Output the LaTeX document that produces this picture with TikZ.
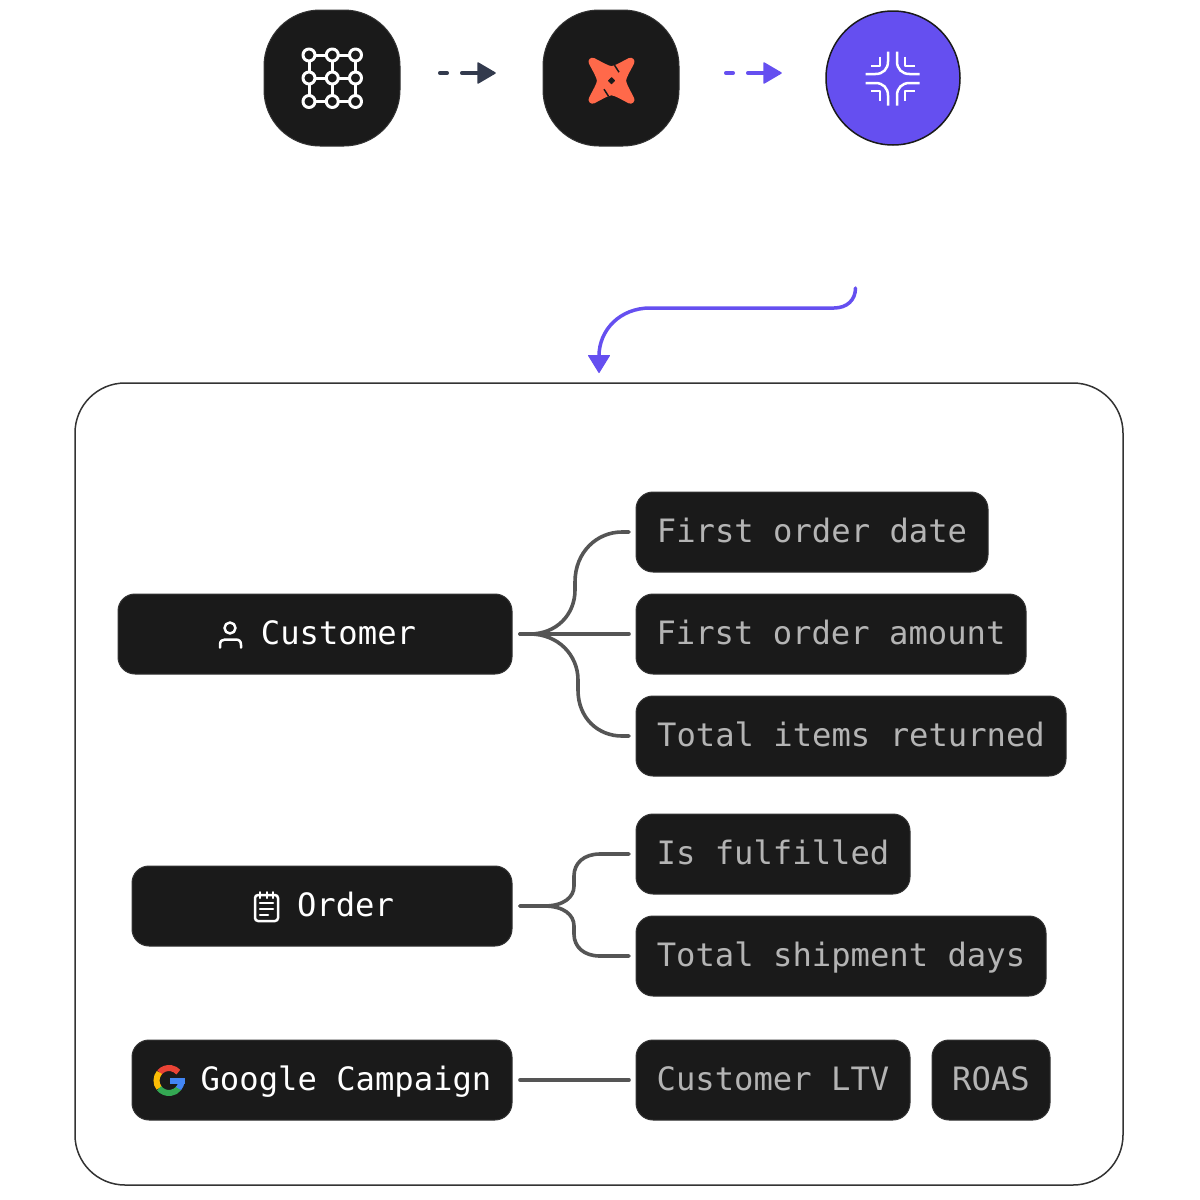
\documentclass[tikz,border=0pt]{standalone}
\usepackage{fontspec}
\setmonofont{DejaVu Sans Mono}
\usetikzlibrary{calc}
\definecolor{dark}{HTML}{1A1A1A}
\definecolor{edge}{HTML}{333333}
\definecolor{violet}{HTML}{654FF0}
\definecolor{slate}{HTML}{323A4D}
\definecolor{wire}{HTML}{555555}
\definecolor{attrtext}{HTML}{B4B4B4}
\definecolor{dbt}{HTML}{FF694A}
\definecolor{gred}{HTML}{EA4335}
\definecolor{gyellow}{HTML}{FBBC05}
\definecolor{ggreen}{HTML}{34A853}
\definecolor{gblue}{HTML}{4285F4}
\tikzset{
  box/.style={draw=edge,line width=1pt,fill=dark,rounded corners=17pt,minimum height=80pt,inner sep=0pt,anchor=center,text height=24.5pt,text depth=4.5pt,font=\ttfamily\fontsize{32.2}{36}\selectfont},
  ent/.style={box,text=white},
  attr/.style={box,text=attrtext},
  roundish/.style={draw=edge,line width=1pt,fill=dark,rounded corners=56pt,minimum width=136pt,minimum height=136pt,inner sep=0pt},
  conn/.style={draw=wire,line width=3.6pt,line cap=round},
  ico/.style={draw=white,line width=3pt,line cap=round,line join=round},
  icob/.style={draw=white,line width=2.5pt,line cap=round,line join=round},
}
\begin{document}
\begin{tikzpicture}[x=1pt,y=-1pt]
\useasboundingbox (0,0) rectangle (1200,1200);
\fill[white] (0,0) rectangle (1200,1200);
% top icons
\node[roundish] (one) at (332,78) {};
\node[roundish] (two) at (611,78) {};
\node[circle,minimum size=134pt,inner sep=0pt,fill=violet,draw=dark,line width=1.5pt] (three) at (893,78) {};
% grid icon
\foreach \y in {55,78,101.5}{\draw[ico] (309,\y) -- (355.5,\y);}
\foreach \x in {309,332.3,355.5}{\draw[ico] (\x,55) -- (\x,101.5);}
\foreach \x in {309,332.3,355.5}{\foreach \y in {55,78,101.5}{
  \draw[ico,fill=dark] (\x,\y) circle (6);}}
% dbt icon
\begin{scope}[shift={(611.5,80.7)}]
\fill[dbt,draw=dbt,line width=8pt,line join=round]
  (-19,-19) .. controls (-11,-15) and (-5,-11) .. (0,-10.5)
  .. controls (5,-11) and (11,-15) .. (19,-19)
  .. controls (15,-11) and (11,-5) .. (10.5,0)
  .. controls (11,5) and (15,11) .. (19,19)
  .. controls (11,15) and (5,11) .. (0,10.5)
  .. controls (-5,11) and (-11,15) .. (-19,19)
  .. controls (-15,11) and (-11,5) .. (-10.5,0)
  .. controls (-11,-5) and (-15,-11) .. cycle;
\fill[dark,draw=dark,line width=1pt,line join=round] (0,-3) -- (3,0) -- (0,3) -- (-3,0) -- cycle;
\draw[dark,line width=1.5pt] (3,-15.5) -- (7.5,-8.5);
\draw[dark,line width=1.5pt] (-3,15.5) -- (-7.5,8.5);
\end{scope}
% cross icon
\begin{scope}[shift={(892.5,78.5)}]
\foreach \sx/\sy in {1/1,1/-1,-1/1,-1/-1}{
 \begin{scope}[xscale=\sx,yscale=\sy]
  \draw[icob,line cap=butt] (4.5,-27) -- (4.5,-17) .. controls (4.5,-9.5) and (9.5,-4.5) .. (17,-4.5) -- (27,-4.5);
  \draw[icob,line cap=butt] (12.5,-22) -- (12.5,-12.5) -- (22,-12.5);
 \end{scope}}
\end{scope}
% top arrows
\coordinate (a1s) at (439.75,73);
\coordinate (a1m) at (478,73);
\coordinate (a1t) at (495,73);
\coordinate (a2s) at (725.75,73);
\coordinate (a2m) at (764,73);
\coordinate (a2t) at (781,73);
\draw[slate,line width=3.5pt,line cap=round] (a1s) -- ++(7.5,0) ++(14.5,0) -- (a1m);
\fill[slate,draw=slate,line width=1.5pt,line join=round] ($(a1m)+(0,-10)$) -- (a1t) -- ($(a1m)+(0,10)$) -- cycle;
\draw[violet,line width=3.5pt,line cap=round] (a2s) -- ++(7.5,0) ++(14.5,0) -- (a2m);
\fill[violet,draw=violet,line width=1.5pt,line join=round] ($(a2m)+(0,-10)$) -- (a2t) -- ($(a2m)+(0,10)$) -- cycle;
% frame
\node[draw=edge,line width=1.5pt,fill=white,rounded corners=50pt,minimum width=1048pt,minimum height=802pt,inner sep=0pt] (frame) at (599,784) {};
% curved arrow
\coordinate (cs) at (855.5,288);
\coordinate (ct) at (599,356);
\coordinate (ctip) at (599,372.5);
\draw[violet,line width=3.5pt,line cap=round] (cs) .. controls (855.5,300) and (847,308) .. (834,308) -- (650,308) .. controls (620,308) and (599,330) .. (ct);
\fill[violet,draw=violet,line width=1pt,line join=round] (588.5,355.5) -- (609.5,355.5) -- (ctip) -- cycle;
% boxes
\node[ent,minimum width=394pt] (customer) at (315,634) {\hspace*{47pt}Customer};
\node[ent,minimum width=380pt] (order) at (322,906) {\hspace*{47pt}Order};
\node[ent,minimum width=380pt] (google) at (322,1080) {\hspace*{48pt}Google Campaign};
\node[attr,minimum width=352pt] (fod) at (812,532) {First order date};
\node[attr,minimum width=390pt] (foa) at (831,634) {First order amount};
\node[attr,minimum width=430pt] (tir) at (851,736) {Total items returned};
\node[attr,minimum width=274pt] (isf) at (773,854) {Is fulfilled};
\node[attr,minimum width=410pt] (tsd) at (841,956) {Total shipment days};
\node[attr,minimum width=274pt] (ltv) at (773,1080) {Customer LTV};
\node[attr,minimum width=118pt] (roas) at (991,1080) {ROAS};
% connectors
\draw[conn] ([xshift=7.5pt]customer.east) -- ([xshift=-6.5pt]foa.west);
\draw[conn] ([xshift=7.5pt]customer.east) -- ++(10,0) .. controls (556,634) and (575,615) .. (575,590) -- (575,582) .. controls (575,552) and (597,532) .. (622,532) -- ([xshift=-6.5pt]fod.west);
\draw[conn] ([xshift=7.5pt]customer.east) -- ++(10,0) .. controls (558,634) and (578,655) .. (578,680) -- (578,690) .. controls (578,718) and (598,736) .. (622,736) -- ([xshift=-6.5pt]tir.west);
\draw[conn] ([xshift=7.5pt]order.east) -- ++(24,0) .. controls (564,906) and (574,897) .. (574,886) -- (574,876) .. controls (574,863) and (584,854) .. (600,854) -- ([xshift=-6.5pt]isf.west);
\draw[conn] ([xshift=7.5pt]order.east) -- ++(24,0) .. controls (564,906) and (574,915) .. (574,926) -- (574,934) .. controls (574,947) and (584,956) .. (600,956) -- ([xshift=-6.5pt]tsd.west);
\draw[conn] ([xshift=7.5pt]google.east) -- ([xshift=-6.5pt]ltv.west);
% person icon
\draw[icob] (230,628) circle (5.5);
\draw[icob] (220,647.5) -- (220,645) .. controls (220,641) and (222,639.5) .. (225,639.5) -- (235.5,639.5) .. controls (239,639.5) and (241,641) .. (241,645) -- (241,647.5);
% notepad icon
\draw[icob,rounded corners=3pt] (255,895) rectangle (278,921);
\foreach \x in {260,266.5,273}{\draw[icob,line width=2pt] (\x,892) -- (\x,898);}
\draw[icob] (260,903) -- (273,903);
\draw[icob] (260,909) -- (273,909);
\draw[icob] (260,915) -- (268,915);
% google G
\begin{scope}[shift={(169,1080.5)}]
\draw[gred,line width=6pt] (-140:12.5) arc (-140:-42:12.5);
\draw[gyellow,line width=6pt] (-140:12.5) arc (-140:-218:12.5);
\draw[ggreen,line width=6pt] (142:12.5) arc (142:38:12.5);
\draw[gblue,line width=6pt] (40:12.5) arc (40:0:12.5);
\fill[gblue] (1,-3) rectangle (15.5,3);
\end{scope}
\end{tikzpicture}
\end{document}
